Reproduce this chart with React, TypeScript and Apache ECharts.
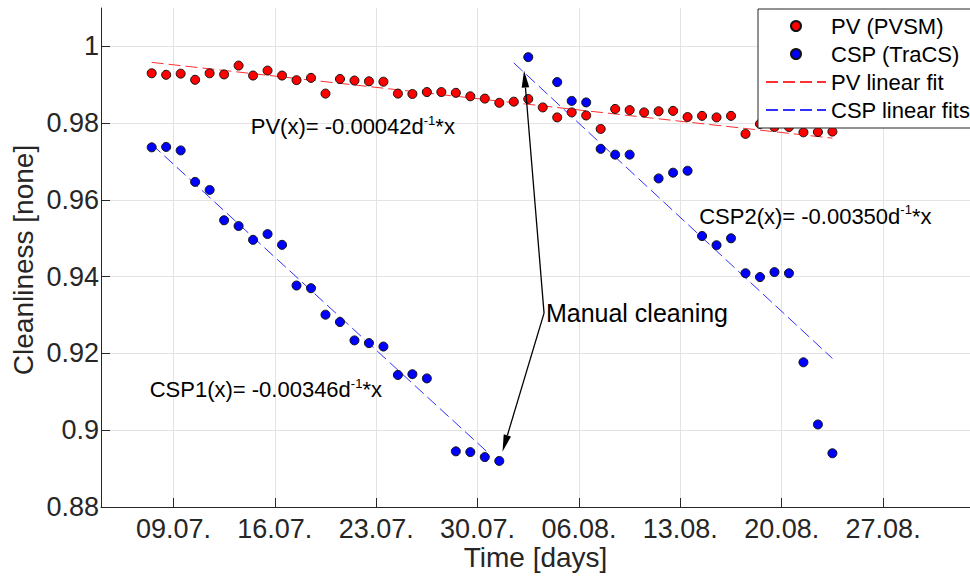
import React, { useEffect, useRef } from 'react';
import * as echarts from 'echarts';

const FONT = "'Liberation Sans', Arial, Helvetica, sans-serif";

// x values are days counted as day-of-July (August day d => 31 + d)
const xTickDays = [9, 16, 23, 30, 37, 44, 51, 58];
const xTickLabels = ['09.07.', '16.07.', '23.07.', '30.07.', '06.08.', '13.08.', '20.08.', '27.08.'];
const yTicks = [0.88, 0.9, 0.92, 0.94, 0.96, 0.98, 1];

const pvDays = [
  7.5, 8.5, 9.5, 10.5, 11.5, 12.5, 13.5, 14.5, 15.5, 16.5, 17.5, 18.5, 19.5, 20.5, 21.5, 22.5,
  23.5, 24.5, 25.5, 26.5, 27.5, 28.5, 29.5, 30.5, 31.5, 32.5, 33.5, 34.5, 35.5, 36.5, 37.5, 38.5,
  39.5, 40.5, 41.5, 42.5, 43.5, 44.5, 45.5, 46.5, 47.5, 48.5, 49.5, 50.5, 51.5, 52.5, 53.5, 54.5,
];
const pvValues = [
  0.9930, 0.9926, 0.9929, 0.9913, 0.9930, 0.9927, 0.9950, 0.9924, 0.9937, 0.9924, 0.9912, 0.9918,
  0.9877, 0.9915, 0.9911, 0.9909, 0.9908, 0.9877, 0.9876, 0.9881, 0.9881, 0.9879, 0.9870, 0.9864,
  0.9853, 0.9856, 0.9863, 0.9841, 0.9815, 0.9828, 0.9820, 0.9785, 0.9837, 0.9834, 0.9828, 0.9831,
  0.9832, 0.9816, 0.9819, 0.9815, 0.9819, 0.9772, 0.9798, 0.9790, 0.9790, 0.9776, 0.9777, 0.9778,
];

const cspDays = [
  7.5, 8.5, 9.5, 10.5, 11.5, 12.5, 13.5, 14.5, 15.5, 16.5, 17.5, 18.5, 19.5, 20.5, 21.5, 22.5,
  23.5, 24.5, 25.5, 26.5, 28.5, 29.5, 30.5, 31.5, 33.5, 35.5, 36.5, 37.5, 38.5, 39.5, 40.5, 42.5,
  43.5, 44.5, 45.5, 46.5, 47.5, 48.5, 49.5, 50.5, 51.5, 52.5, 53.5, 54.5,
];
const cspValues = [
  0.9737, 0.9738, 0.9729, 0.9647, 0.9626, 0.9547, 0.9532, 0.9496, 0.9511, 0.9483, 0.9377, 0.9370,
  0.9301, 0.9282, 0.9234, 0.9227, 0.9218, 0.9144, 0.9146, 0.9135, 0.8945, 0.8943, 0.8930, 0.8920,
  0.9972, 0.9907, 0.9858, 0.9854, 0.9733, 0.9718, 0.9718, 0.9656, 0.9671, 0.9676, 0.9506, 0.9482,
  0.9500, 0.9409, 0.9399, 0.9412, 0.9409, 0.9177, 0.9015, 0.8940,
];

// linear fits: value at start day, slope per day
const pvFit = { start: 7.5, end: 54.5, startValue: 0.99583, slope: -0.00042 };
const csp1Fit = { start: 7.5, end: 30.8, startValue: 0.9745, slope: -0.00346 };
const csp2Fit = { start: 32.5, end: 54.5, startValue: 0.9957, slope: -0.0035 };

const fitLabelTexts = [
  ['PV(x)= -0.00042d', '-1', '*x'],
  ['CSP1(x)= -0.00346d', '-1', '*x'],
  ['CSP2(x)= -0.00350d', '-1', '*x'],
];
const fitLabelAnchors = [
  [14.34, 0.9790],
  [7.36, 0.9105],
  [45.3, 0.9558],
];
const cleaningText = 'Manual cleaning';
const cleaningAnchor = [34.72, 0.9305];
const arrowFrom = [34.59, 0.9305];
const arrowTargets = [
  [33.21, 0.9937],
  [31.72, 0.8944],
];

const fitLine = (f: { start: number; end: number; startValue: number; slope: number }) => [
  [f.start, f.startValue],
  [f.end, f.startValue + f.slope * (f.end - f.start)],
];

const pair = (xs: number[], ys: number[]) => xs.map((x, i) => [x, ys[i]]);

export default function App() {
  const ref = useRef<HTMLDivElement>(null);

  useEffect(() => {
    const chart = echarts.init(ref.current!, null, { renderer: 'svg' });
    const dash = [12, 5];
    const hiddenSymbol = { opacity: 0 };
    chart.setOption({
      animation: false,
      textStyle: { fontFamily: FONT },
      grid: { left: 101, right: 0, top: 8, bottom: 71, containLabel: false },
      xAxis: {
        type: 'value',
        min: 4,
        max: 64,
        axisLine: { show: true, onZero: false, lineStyle: { color: '#262626', width: 1 } },
        axisTick: { show: true, inside: true, length: 9, customValues: xTickDays, lineStyle: { color: '#262626' } },
        axisLabel: {
          customValues: xTickDays,
          fontSize: 27,
          color: '#262626',
          margin: 8,
          fontFamily: FONT,
          formatter: (v: number) => {
            const i = xTickDays.indexOf(Math.round(v));
            return i >= 0 ? xTickLabels[i] : '';
          },
        },
        splitLine: { show: true, lineStyle: { color: '#e3e3e3', width: 1 } },
      },
      yAxis: {
        type: 'value',
        min: 0.88,
        max: 1.01,
        axisLine: { show: true, lineStyle: { color: '#262626', width: 1 } },
        axisTick: { show: true, inside: true, length: 9, customValues: yTicks, lineStyle: { color: '#262626' } },
        axisLabel: { customValues: yTicks, fontSize: 27, color: '#262626', margin: 2, fontFamily: FONT },
        splitLine: { show: true, lineStyle: { color: '#e3e3e3', width: 1 } },
      },
      legend: {
        orient: 'vertical',
        left: 758,
        top: 9,
        padding: [6, 14, 7, 7],
        itemGap: 6,
        itemWidth: 60,
        itemHeight: 10,
        backgroundColor: '#ffffff',
        borderColor: '#262626',
        borderWidth: 1,
        borderRadius: 0,
        selectedMode: false,
        textStyle: { fontSize: 22, color: '#000', fontFamily: FONT },
        data: [
          'PV (PVSM)',
          'CSP (TraCS)',
          { name: 'PV linear fit', itemStyle: hiddenSymbol },
          { name: 'CSP linear fits', itemStyle: hiddenSymbol },
        ],
        z: 10,
      },
      series: [
        {
          name: 'PV (PVSM)',
          type: 'scatter',
          symbol: 'circle',
          symbolSize: 9,
          itemStyle: { color: '#ff0000', borderColor: '#111', borderWidth: 1, opacity: 1 },
          data: pair(pvDays, pvValues),
          z: 3,
        },
        {
          name: 'CSP (TraCS)',
          type: 'scatter',
          symbol: 'circle',
          symbolSize: 9,
          itemStyle: { color: '#0000ff', borderColor: '#111', borderWidth: 1, opacity: 1 },
          data: pair(cspDays, cspValues),
          z: 3,
        },
        {
          name: 'PV linear fit',
          type: 'line',
          showSymbol: false,
          symbol: 'none',
          lineStyle: { color: '#ff3030', width: 1, type: dash },
          itemStyle: { color: '#ff3030', opacity: 0 },
          data: fitLine(pvFit),
          z: 2,
        },
        {
          name: 'CSP linear fits',
          type: 'line',
          showSymbol: false,
          symbol: 'none',
          lineStyle: { color: '#3030ff', width: 1, type: dash },
          itemStyle: { color: '#3030ff', opacity: 0 },
          data: fitLine(csp1Fit),
          z: 2,
        },
        {
          name: 'CSP linear fits',
          type: 'line',
          showSymbol: false,
          symbol: 'none',
          lineStyle: { color: '#3030ff', width: 1, type: dash },
          itemStyle: { color: '#3030ff', opacity: 0 },
          data: fitLine(csp2Fit),
          z: 2,
        },
      ],
    });

    const toPx = (p: number[]) => chart.convertToPixel({ gridIndex: 0 }, p) as number[];
    const graphics: any[] = [];

    const rich = {
      m: { fontSize: 22, lineHeight: 26, fill: '#000', fontFamily: FONT, verticalAlign: 'middle' },
      s: { fontSize: 13, lineHeight: 17, fill: '#000', fontFamily: FONT, verticalAlign: 'top' },
    };
    fitLabelTexts.forEach((t, i) => {
      const [x, y] = toPx(fitLabelAnchors[i]);
      graphics.push({
        type: 'text',
        x,
        y,
        z: 20,
        style: {
          text: `{m|${t[0]}}{s|${t[1]}}{m|${t[2]}}`,
          rich,
          align: 'left',
          verticalAlign: 'middle',
        },
      });
    });

    const [cx, cy] = toPx(cleaningAnchor);
    graphics.push({
      type: 'text',
      x: cx,
      y: cy,
      z: 20,
      style: { text: cleaningText, fontSize: 25, fontFamily: FONT, fill: '#000', align: 'left', verticalAlign: 'middle' },
    });

    const from = toPx(arrowFrom);
    arrowTargets.forEach((tgt) => {
      const to = toPx(tgt);
      const dx = to[0] - from[0];
      const dy = to[1] - from[1];
      const len = Math.sqrt(dx * dx + dy * dy);
      const ux = dx / len;
      const uy = dy / len;
      const headLen = 17;
      const halfW = 3.8;
      const bx = to[0] - ux * headLen;
      const by = to[1] - uy * headLen;
      graphics.push({
        type: 'line',
        z: 20,
        shape: { x1: from[0], y1: from[1], x2: bx, y2: by },
        style: { stroke: '#000', lineWidth: 1.3 },
      });
      graphics.push({
        type: 'polygon',
        z: 20,
        shape: {
          points: [
            [to[0], to[1]],
            [bx - uy * halfW, by + ux * halfW],
            [bx + uy * halfW, by - ux * halfW],
          ],
        },
        style: { fill: '#000' },
      });
    });

    graphics.push({
      type: 'text',
      x: 535.5,
      y: 557,
      z: 20,
      style: { text: 'Time [days]', fontSize: 28, fontFamily: FONT, fill: '#262626', align: 'center', verticalAlign: 'middle' },
    });
    graphics.push({
      type: 'text',
      x: 23.6,
      y: 260,
      rotation: Math.PI / 2,
      z: 20,
      style: { text: 'Cleanliness [none]', fontSize: 28, fontFamily: FONT, fill: '#262626', align: 'center', verticalAlign: 'middle' },
    });

    chart.setOption({ graphic: graphics });

    return () => chart.dispose();
  }, []);

  return (
    <div
      ref={ref}
      style={{ position: 'fixed', left: 0, top: 0, width: 970, height: 578, background: '#fff' }}
    />
  );
}
